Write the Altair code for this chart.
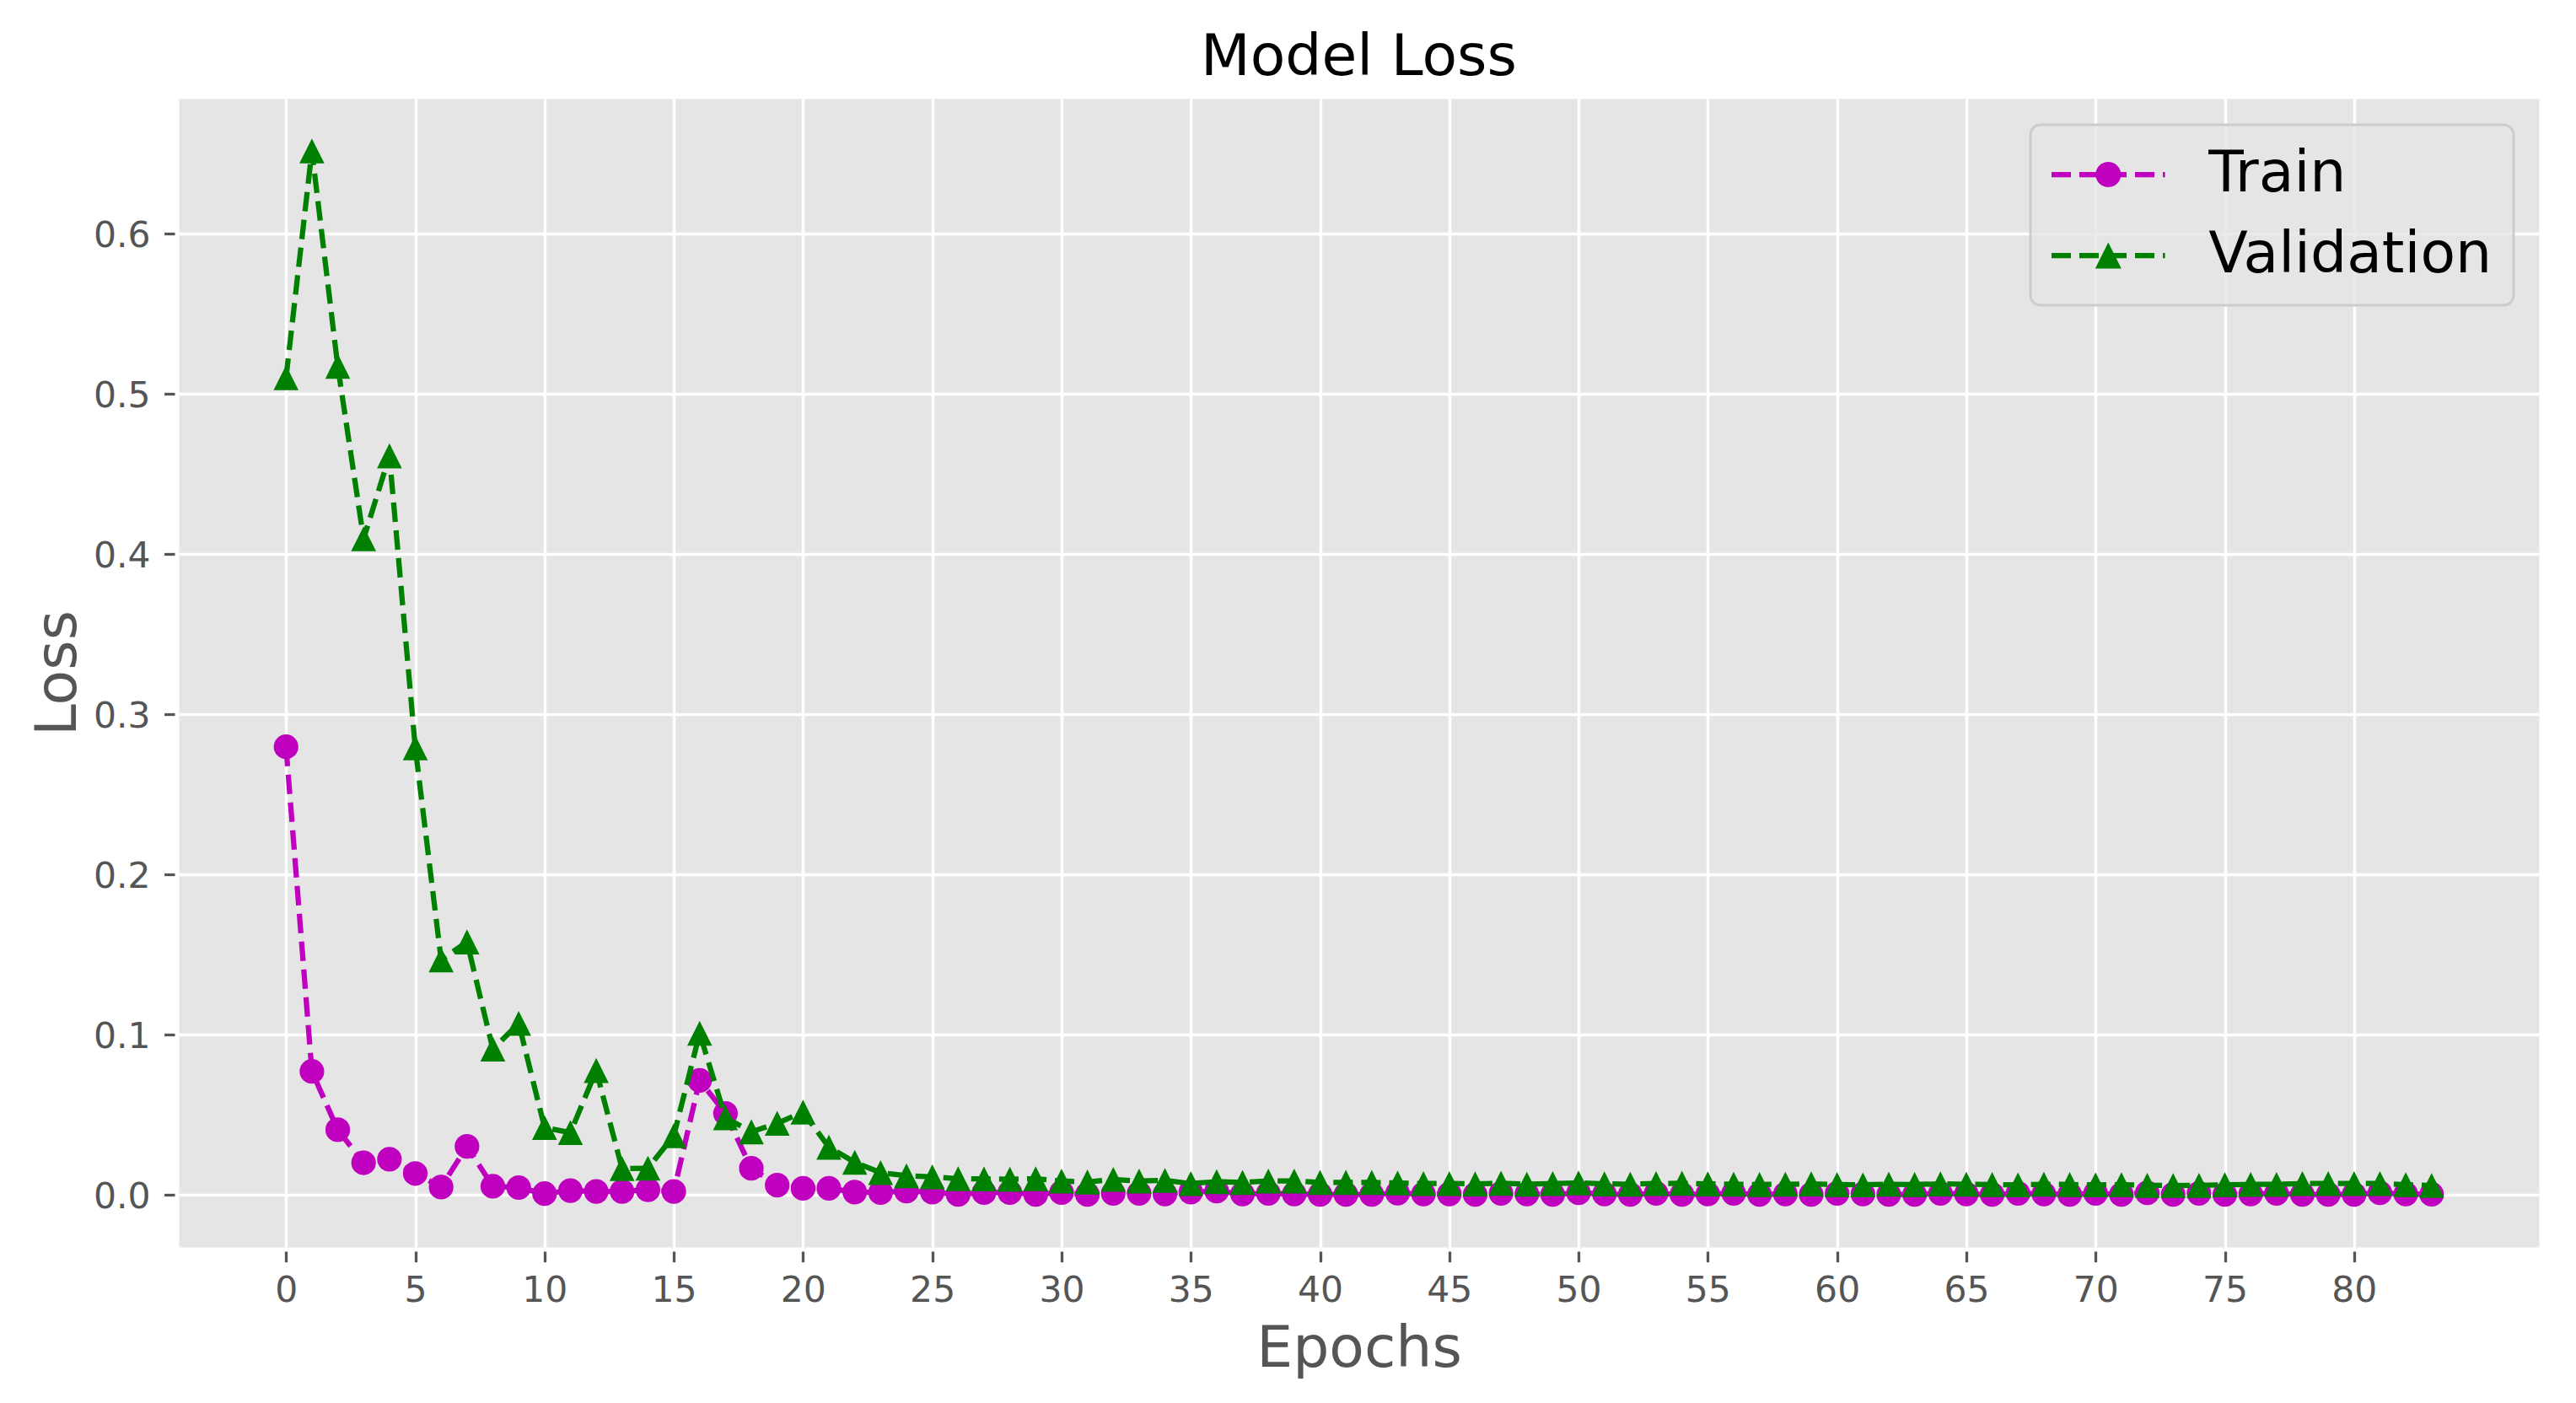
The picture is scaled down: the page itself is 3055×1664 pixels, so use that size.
import math
import altair as alt
import pandas as pd

# ---------------- data ----------------
epochs = list(range(84))

train_loss = [
    0.2796, 0.0770, 0.0406, 0.0200, 0.0222, 0.0133, 0.0048, 0.0302, 0.0053, 0.0045,
    0.0007, 0.0026, 0.0021, 0.0021, 0.0031, 0.0021, 0.0714, 0.0508, 0.0165, 0.0060,
    0.0040, 0.0040, 0.0017, 0.0014, 0.0023, 0.0017, 0.0002, 0.0014, 0.0014, 0.0002,
    0.0014, 0.0002, 0.0009, 0.0009, 0.0005, 0.0017, 0.0023, 0.0005, 0.0009, 0.0005,
    0.0002, 0.0002, 0.0002, 0.0010, 0.0005, 0.0005, 0.0002, 0.0009, 0.0005, 0.0002,
    0.0012, 0.0005, 0.0002, 0.0009, 0.0002, 0.0005, 0.0009, 0.0002, 0.0005, 0.0002,
    0.0009, 0.0005, 0.0002, 0.0002, 0.0009, 0.0005, 0.0002, 0.0009, 0.0005, 0.0002,
    0.0009, 0.0002, 0.0012, 0.0002, 0.0009, 0.0002, 0.0005, 0.0009, 0.0002, 0.0002,
    0.0002, 0.0012, 0.0005, 0.0003,
]

val_loss = [
    0.5099, 0.6515, 0.5171, 0.4094, 0.4612, 0.2790, 0.1466, 0.1578, 0.0909, 0.1070,
    0.0420, 0.0388, 0.0776, 0.0163, 0.0166, 0.0369, 0.1008, 0.0481, 0.0393, 0.0446,
    0.0516, 0.0297, 0.0203, 0.0138, 0.0119, 0.0112, 0.0100, 0.0099, 0.0097, 0.0100,
    0.0086, 0.0080, 0.0096, 0.0086, 0.0090, 0.0070, 0.0082, 0.0077, 0.0086, 0.0086,
    0.0077, 0.0077, 0.0077, 0.0074, 0.0070, 0.0070, 0.0068, 0.0072, 0.0066, 0.0070,
    0.0074, 0.0068, 0.0066, 0.0070, 0.0072, 0.0068, 0.0066, 0.0064, 0.0066, 0.0068,
    0.0064, 0.0062, 0.0066, 0.0064, 0.0068, 0.0066, 0.0064, 0.0062, 0.0066, 0.0064,
    0.0062, 0.0063, 0.0059, 0.0058, 0.0059, 0.0063, 0.0065, 0.0065, 0.0070, 0.0070,
    0.0070, 0.0070, 0.0063, 0.0058,
]

series_names = ["Train", "Validation"]
series_colors = ["#BF00BF", "#008000"]
x_ticks = list(range(0, 81, 5))
y_ticks = [0.0, 0.1, 0.2, 0.3, 0.4, 0.5, 0.6]

assert len(train_loss) == len(epochs) and len(val_loss) == len(epochs)

df = pd.DataFrame({
    "epoch": epochs + epochs,
    "loss": train_loss + val_loss,
    "series": [series_names[0]] * len(epochs) + [series_names[1]] * len(epochs),
})

# ---------------- geometry / style ----------------
W, H = 2799, 1362
FONT = "DejaVu Sans"
GREY = "#555555"

# legend symbols: dashed line + marker, as one filled custom path
SYM = 68.0            # sqrt(symbolSize)
U = SYM / 2.0         # one path unit in px
HALF_LEN = 67.3
HALF_T = 3.125


def px(v):
    return round(v / U, 4)


def dash_path():
    parts = []
    for a, b in [(0, 23), (33, 56), (66, 89), (99, 122), (132, 134.6)]:
        x0, x1 = px(a - HALF_LEN), px(b - HALF_LEN)
        h = px(HALF_T)
        parts.append(f"M{x0},{-h}L{x1},{-h}L{x1},{h}L{x0},{h}Z")
    return "".join(parts)


def circle_path(r_px, n=48):
    r = r_px / U
    pts = [(round(r * math.cos(2 * math.pi * k / n), 4), round(r * math.sin(2 * math.pi * k / n), 4)) for k in range(n)]
    return "M" + "L".join(f"{x},{y}" for x, y in pts) + "Z"


def triangle_path(a_px):
    a = px(a_px)
    return f"M0,{-a}L{a},{a}L{-a},{a}Z"


legend_shapes = [dash_path() + circle_path(15.0), dash_path() + triangle_path(15.5)]

x_scale = alt.Scale(domain=[-4.15, 87.15], nice=False, zero=False)
y_scale = alt.Scale(domain=[-0.0326, 0.6841], nice=False, zero=False)
color_scale = alt.Scale(domain=series_names, range=series_colors)

x_axis = alt.Axis(
    values=x_ticks, title="Epochs", offset=5, tickSize=12.7, labelPadding=12.4,
    titleX=W / 2, titleY=136, titleBaseline="alphabetic", titleAlign="center",
)
y_axis = alt.Axis(
    values=y_ticks, format=".1f", title="Loss", offset=5, tickSize=12.4, labelPadding=16.6,
    labelOffset=2.7, titleAngle=270, titleX=-118, titleY=H / 2,
    titleBaseline="alphabetic", titleAlign="center",
)

base = alt.Chart(df)
X = alt.X("epoch:Q", scale=x_scale, axis=x_axis)
Y = alt.Y("loss:Q", scale=y_scale, axis=y_axis)

marker_shapes = ["circle", "M0,-1L1,1L-1,1Z"]
marker_sizes = [853, 876]

layers = []
for name, col, shp, sz in zip(series_names, series_colors, marker_shapes, marker_sizes):
    sub = base.transform_filter(alt.datum.series == name)
    layers.append(
        sub.mark_line(color=col, strokeWidth=6.25, strokeDash=[23.1, 10], strokeCap="butt", strokeJoin="round")
        .encode(x=X, y=Y)
    )
    layers.append(
        sub.mark_point(color=col, filled=True, opacity=1, strokeWidth=0, shape=shp, size=sz)
        .encode(x=X, y=Y)
    )

legend_props = dict(
    title=None, orient="none", legendX=2196, legendY=31, direction="vertical",
    labelFont=FONT, labelFontSize=68, labelColor="black", labelLimit=0,
    symbolSize=SYM * SYM, symbolStrokeWidth=0, symbolOpacity=1,
    symbolOffset=33.3, labelOffset=85, rowPadding=28, padding=25,
    fillColor="rgba(229,229,229,0.8)", strokeColor="#CCCCCC", cornerRadius=12,
)

# invisible (size 0) layer that only carries the legend
legend_layer = base.mark_point(filled=True, opacity=1, strokeWidth=0, size=0).encode(
    x=X, y=Y,
    color=alt.Color("series:N", scale=color_scale, legend=alt.Legend(**legend_props)),
    shape=alt.Shape("series:N", scale=alt.Scale(domain=series_names, range=legend_shapes),
                    legend=alt.Legend(**legend_props)),
)
layers.append(legend_layer)

chart = (
    alt.layer(*layers)
    .properties(
        width=W, height=H,
        title=alt.TitleParams(
            "Model Loss", font=FONT, fontSize=68, fontWeight="normal", color="black",
            offset=27, dy=67, baseline="alphabetic", anchor="middle", frame="group",
        ),
        autosize=alt.AutoSizeParams(type="none"),
        padding={"left": 204, "top": 109, "right": 36, "bottom": 169},
        background="white",
    )
    .configure_view(fill="#E5E5E5", stroke="transparent")
    .configure_axis(
        domain=False, grid=True, gridColor="white", gridWidth=3.5, gridOpacity=1,
        tickColor=GREY, tickWidth=3.3, labelFont=FONT, labelFontSize=42.5, labelColor=GREY,
        titleFont=FONT, titleFontSize=68, titleFontWeight="normal", titleColor=GREY,
    )
    .configure_legend(strokeWidth=3)
)

chart.save("out.html", embed_options={"renderer": "svg", "actions": False})
